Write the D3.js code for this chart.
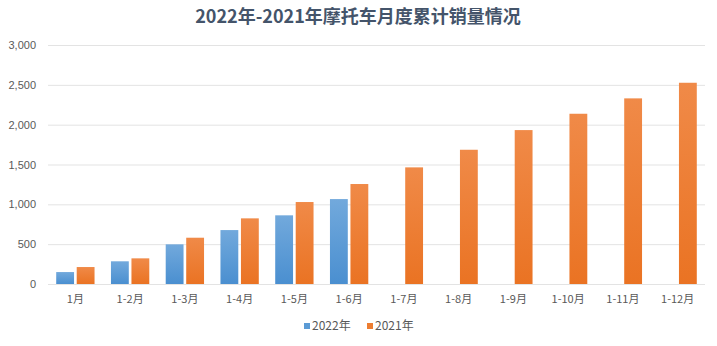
<!DOCTYPE html>
<html><head><meta charset="utf-8">
<script src="https://cdn.jsdelivr.net/npm/d3@7/dist/d3.min.js"></script>
<style>body{margin:0;background:#fff}svg{display:block}</style>
</head><body>
<svg id="c" width="717" height="346"></svg>
<script>
const categories = ["1月","1-2月","1-3月","1-4月","1-5月","1-6月","1-7月","1-8月","1-9月","1-10月","1-11月","1-12月"];
const series2022 = [150, 285, 498, 677, 862, 1066];
const series2021 = [213, 322, 581, 824, 1029, 1255, 1464, 1685, 1932, 2137, 2330, 2526];
const yTicks = [0, 500, 1000, 1500, 2000, 2500, 3000];
const seriesNames = ["2022年", "2021年"];

const svg = d3.select("#c");
const m = {l: 48, r: 12, t: 45, b: 62};
const W = 717, H = 346;
const x = d3.scaleBand().domain(categories).range([m.l, W - m.r]).paddingInner(0.3).paddingOuter(0.15);
const x0 = d3.scaleBand().domain(categories).range([m.l, W - m.r]);
const xs = d3.scaleBand().domain(seriesNames).range([0, x.bandwidth()]).paddingInner(0.13);
const y = d3.scaleLinear().domain([0, 3000]).range([H - m.b, m.t]);

const defs = svg.append("defs");
function grad(id, c1, c2){
  const g = defs.append("linearGradient").attr("id", id).attr("x1",0).attr("y1",0).attr("x2",0).attr("y2",1);
  g.append("stop").attr("offset","0%").attr("stop-color",c1);
  g.append("stop").attr("offset","100%").attr("stop-color",c2);
}
grad("gb", "#72a9dc", "#4a8fd0");
grad("go", "#f08a48", "#ea7323");

// title
svg.append("text").attr("x", 358).attr("y", 23).attr("text-anchor","middle")
  .attr("font-family","'Noto Sans CJK SC', sans-serif").attr("font-weight","bold")
  .attr("font-size", 18).attr("fill","#44546a").text("2022年-2021年摩托车月度累计销量情况");

// grid
svg.append("g").selectAll("line").data(yTicks).join("line")
  .attr("x1", m.l).attr("x2", W - m.r)
  .attr("y1", d => y(d) + 0.5).attr("y2", d => y(d) + 0.5)
  .attr("stroke", "#e3e3e3").attr("stroke-width", 1);

// y labels
svg.append("g").selectAll("text").data(yTicks).join("text")
  .attr("x", 36).attr("y", d => y(d) + 4).attr("text-anchor","end")
  .attr("font-family","'Liberation Sans', Arial, sans-serif").attr("font-size", 11)
  .attr("fill","#595959").text(d => d3.format(",")(d));

// bars
svg.append("g").selectAll("rect").data(series2022).join("rect")
  .attr("x", (d,i) => x(categories[i]) + xs(seriesNames[0]))
  .attr("y", d => y(d)).attr("width", xs.bandwidth())
  .attr("height", d => y(0) - y(d)).attr("fill","url(#gb)");
svg.append("g").selectAll("rect").data(series2021).join("rect")
  .attr("x", (d,i) => x(categories[i]) + xs(seriesNames[1]))
  .attr("y", d => y(d)).attr("width", xs.bandwidth())
  .attr("height", d => y(0) - y(d)).attr("fill","url(#go)");

// x labels
svg.append("g").selectAll("text").data(categories).join("text")
  .attr("x", d => x0(d) + x0.bandwidth()/2).attr("y", 303).attr("text-anchor","middle")
  .attr("font-family","'Noto Sans CJK SC', sans-serif").attr("font-size", 11)
  .attr("fill","#595959").text(d => d);

// legend
const leg = svg.append("g").attr("font-family","'Noto Sans CJK SC', sans-serif").attr("font-size", 12).attr("fill","#595959");
const lx = [304, 367];
const lc = ["#5b9bd5", "#ed7d31"];
seriesNames.forEach((n,i) => {
  leg.append("rect").attr("x", lx[i]).attr("y", 323).attr("width", 6).attr("height", 6).attr("fill", lc[i]);
  leg.append("text").attr("x", lx[i] + 8).attr("y", 330).text(n);
});
</script>
</body></html>
